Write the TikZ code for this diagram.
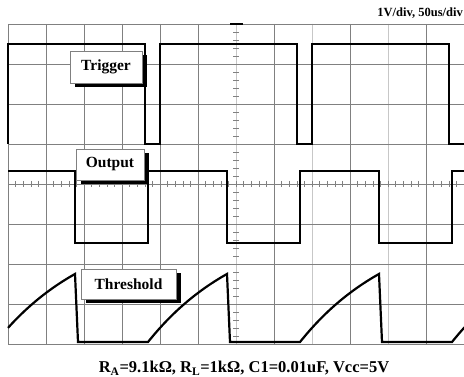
\documentclass[tikz,border=0pt]{standalone}
\usepackage{fontspec}
\setmainfont{Liberation Serif}
\usetikzlibrary{shadows}
\definecolor{gridgray}{gray}{0.5}
\definecolor{lightgrid}{gray}{0.78}
\newcommand\drawscreen[0]{
	% grid
	\foreach \x in {0,...,12} {
		\draw[gridgray, line width=0.9pt] (8+38*\x,24) -- (8+38*\x,344);
	}
	\foreach \x in {236,312,388} {
		\draw[lightgrid, line width=1pt] (\x,24) -- (\x,344);
	}
	\foreach \y in {0,...,8} {
		\draw[gridgray, line width=0.9pt] (8,24+40*\y) -- (464,24+40*\y);
	}
	% ticks
	\foreach \t in {1,...,39} {
		\draw[gridgray, line width=0.6pt] (233,24+8*\t) -- (239,24+8*\t);
	}
	\foreach \t in {1,...,59} {
		\draw[gridgray, line width=0.6pt] (8+7.6*\t,181) -- (8+7.6*\t,187);
	}
	\draw [line width=2pt] (230,24) -- (243,24);
}

\begin{document}
\begin{tikzpicture}[x=1pt, y=-1pt,
	trace/.style={black, line width=2.2pt, line join=miter},
	tag/.style={draw=gray, fill=white, line width=0.8pt, inner sep=0pt,
		font=\fontsize{15.5}{18}\selectfont\bfseries,
		drop shadow={shadow xshift=4.5pt, shadow yshift=-4.5pt, opacity=1, fill=black}}]
	\useasboundingbox (0,0) rectangle (464,377);
	\drawscreen
	
	% trigger
	\draw [trace] (8,144) -- (8,44) -- (145,44) -- (145,144) -- (160,144) -- (160,44) -- (297,44) -- (297,144) -- (312,144) -- (312,44) -- (449,44) -- (449,144) -- (466,144);
	
	% output
	\draw [trace] (8,171) -- (75,171) -- (75,243) -- (148,243) -- (148,171) -- (227,171) -- (227,243) -- (300,243) -- (300,171) -- (379,171) -- (379,243) -- (452,243) -- (452,171) -- (466,171);
	
	% threshold
	\draw [trace] plot[domain=12:79, samples=30] ({-4+\x},{342-123.5*(1-exp(-0.01013*\x))}) -- (78,342) -- (148,342)
		-- plot[domain=0:79, samples=30] ({148+\x},{342-123.5*(1-exp(-0.01013*\x))}) -- (230,342) -- (300,342)
		-- plot[domain=0:79, samples=30] ({300+\x},{342-123.5*(1-exp(-0.01013*\x))}) -- (382,342) -- (452,342)
		-- plot[domain=0:14, samples=8] ({452+\x},{342-123.5*(1-exp(-0.01013*\x))});
	
	% labels
	\node [tag, minimum width=72pt, minimum height=32pt] (trig) at (106,67) {Trigger};
	\node [tag, minimum width=68pt, minimum height=31pt] (outp) at (110,164.5) {Output};
	\node [tag, minimum width=95pt, minimum height=30pt] (thresh) at (128.5,284) {Threshold};
	
	\node [anchor=base east, inner sep=0pt, font=\fontsize{12.5}{15}\selectfont\bfseries] (scale) at (463,17) {1V/div, 50us/div};
	\node [anchor=base, inner sep=0pt, font=\fontsize{16.5}{20}\selectfont\bfseries] (params) at (244,373) {R\textsubscript{A}=9.1kΩ, R\textsubscript{L}=1kΩ, C1=0.01uF, Vcc=5V};
\end{tikzpicture}
\end{document}
